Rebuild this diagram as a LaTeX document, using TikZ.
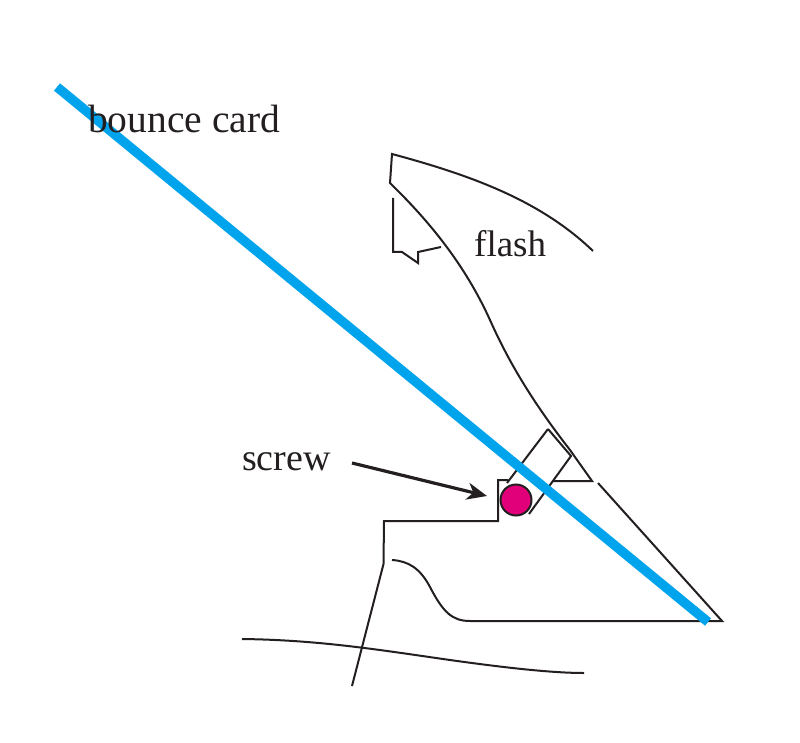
\documentclass[tikz,border=0pt]{standalone}
\usepackage{fontspec}
\setmainfont{Liberation Serif}
\usetikzlibrary{arrows.meta}
\definecolor{ink}{HTML}{231F20}
\definecolor{cardblue}{HTML}{00A4EC}
\definecolor{screwpink}{HTML}{E2007A}
\tikzset{
  outline/.style={draw=ink,line width=2pt,line join=miter},
  lbl/.style={text=ink,font=\fontsize{37}{40}\selectfont,inner sep=0pt,anchor=base west},
  card/.style={draw=cardblue,line width=9.5pt},
  leader/.style={draw=ink,line width=3.2pt,-{Stealth[length=20pt,width=17pt,inset=6pt]}}
}
\begin{document}
\begin{tikzpicture}[x=1pt,y=-1pt]
\useasboundingbox (0,0) rectangle (800,743);
\fill[white] (0,0) rectangle (800,743);
% flash head
\draw[outline] (441,247) -- (418,252) -- (418,263) -- (402,252) -- (393,252) -- (393,198);
\draw[outline] (593,251) .. controls (540,200) and (470,175) .. (392,154) -- (390,183)
  .. controls (430,222) and (465,265) .. (490,320)
  .. controls (510,365) and (535,405) .. (570,450) -- (592,481) -- (553,481);
% shoe
\draw[outline] (548,429) -- (571,456) -- (529,514);
\draw[outline] (548,429) -- (507,483);
\draw[outline] (508,480) -- (498,480) -- (498,521) -- (384,521) -- (383.5,564) -- (352,686);
% body
\draw[outline] (598,483) -- (722,621) -- (470,621)
  .. controls (452,621) and (443,612) .. (430,587)
  .. controls (420,568) and (408,561) .. (392,560);
\draw[outline] (242,639) .. controls (320,640) and (380,650) .. (450,660)
  .. controls (500,667) and (550,673) .. (584,673);
% card
\coordinate (cardA) at (57,87);
\coordinate (cardB) at (708,622);
\draw[card] (cardA) -- (cardB);
% screw
\node[circle,draw=ink,line width=2pt,fill=screwpink,minimum size=31pt,inner sep=0pt] (screw) at (516,500) {};
% labels
\node[lbl,font=\fontsize{39.5}{42}\selectfont] (bounce) at (88,133) {bounce card};
\node[lbl] (flash) at (474,257) {flash};
\node[lbl,font=\fontsize{38}{42}\selectfont] (screwlabel) at (242,470) {screw};
\coordinate (arrowstart) at (352,463);
\coordinate (arrowtip) at (487,496);
\draw[leader] (arrowstart) -- (arrowtip);
\end{tikzpicture}
\end{document}
